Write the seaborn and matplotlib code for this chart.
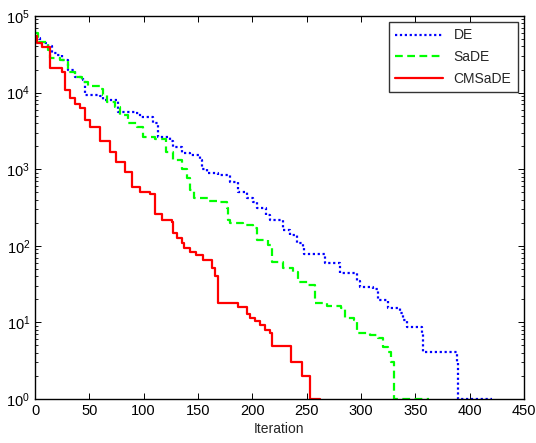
import numpy as np
import pandas as pd
import seaborn as sns
import matplotlib
matplotlib.use('Agg')
import matplotlib.pyplot as plt
from matplotlib.ticker import LogLocator, NullFormatter

# step-curve breakpoints (iteration, best fitness)
de_iter = [0, 5, 12, 16, 20, 25, 30, 37, 44, 46, 60, 63, 76, 92, 97, 109, 113, 124, 127,
           135, 143, 152, 154, 158, 168, 179, 187, 195, 201, 204, 213, 216, 228, 235, 241,
           247, 248, 267, 281, 296, 299, 311, 316, 325, 336, 339, 342, 356, 357, 388, 389, 421]
de_val = [5.1e4, 4.5e4, 4.0e4, 3.3e4, 3.1e4, 2.7e4, 1.95e4, 1.58e4, 1.45e4, 9.3e3, 8.9e3,
          7.9e3, 5.6e3, 5.4e3, 4.8e3, 4.0e3, 2.6e3, 2.3e3, 1.95e3, 1.62e3, 1.55e3, 1.32e3,
          1.02e3, 890, 830, 680, 500, 420, 370, 310, 250, 219, 162, 138, 110, 95, 79, 59,
          44, 35, 29, 27, 19.5, 15.5, 13.2, 10.7, 8.7, 7.2, 4.1, 3.0, 1.0, 1.0]

sade_iter = [0, 3, 12, 14, 23, 30, 37, 43, 49, 60, 63, 66, 74, 78, 86, 94, 99, 110, 121,
             127, 135, 140, 143, 146, 159, 170, 177, 178, 179, 191, 201, 204, 214, 218, 228,
             237, 242, 251, 258, 269, 282, 285, 294, 296, 308, 316, 320, 325, 328, 330, 363]
sade_val = [6.0e4, 4.6e4, 3.6e4, 2.8e4, 2.7e4, 1.86e4, 1.58e4, 1.38e4, 1.23e4, 1.12e4,
            9.3e3, 7.6e3, 6.5e3, 5.1e3, 4.0e3, 3.55e3, 2.6e3, 2.45e3, 1.66e3, 1.32e3,
            1.02e3, 760, 540, 420, 380, 370, 310, 219, 200, 186, 170, 120, 102, 62, 52, 46,
            34, 31, 17.8, 16.5, 15.5, 11.5, 10.7, 7.2, 6.9, 6.3, 4.8, 4.1, 3.0, 1.0, 1.0]

cmsade_iter = [0, 2, 6, 14, 25, 28, 32, 37, 41, 46, 51, 60, 69, 75, 83, 89, 97, 106, 110,
               117, 126, 127, 131, 135, 137, 143, 148, 155, 163, 166, 168, 187, 195, 198,
               202, 207, 212, 216, 218, 236, 246, 253, 262]
cmsade_val = [5.5e4, 4.4e4, 3.9e4, 2.1e4, 1.85e4, 1.07e4, 8.5e3, 7.2e3, 6.3e3, 4.4e3,
              3.55e3, 2.3e3, 1.66e3, 1.23e3, 910, 590, 500, 480, 263, 219, 204, 148, 126,
              108, 93, 83, 76, 65, 51, 40, 17.8, 16, 13, 11.5, 10.3, 9.3, 8, 7.2, 4.9, 3.0,
              2.0, 1.0, 1.0]

names = ['DE', 'SaDE', 'CMSaDE']
colors = ['#0000ff', '#00ff00', '#ff0000']
styles = [(0, (1, 1.2)), (0, (3.5, 2)), '-']

sns.set_style('ticks')
plt.rcParams['font.family'] = ['Liberation Sans', 'DejaVu Sans']

fig = plt.figure(figsize=(5.36, 4.43), dpi=100)
ax = fig.add_axes([0.0653, 0.0993, 0.9123, 0.8646])

series = [(de_iter, de_val), (sade_iter, sade_val), (cmsade_iter, cmsade_val)]
for name, (xs, ys), c, ls in zip(names, series, colors, styles):
    df = pd.DataFrame({'Iteration': xs, 'value': ys})
    sns.lineplot(data=df, x='Iteration', y='value', ax=ax, color=c, linestyle=ls,
                 linewidth=1.6, drawstyle='steps-post', label=name, sort=False,
                 estimator=None)

ax.set_yscale('log')
ax.set_xlim(0, 450)
ax.set_ylim(1, 1e5)
ax.set_xticks(np.arange(0, 451, 50))
ax.yaxis.set_major_locator(LogLocator(base=10, numticks=10))
ax.yaxis.set_minor_locator(LogLocator(base=10, subs=np.arange(2, 10), numticks=10))
ax.yaxis.set_minor_formatter(NullFormatter())
ax.set_xlabel('Iteration', fontsize=10, labelpad=3)
ax.set_ylabel('')
ax.tick_params(which='both', direction='in', top=True, right=True, labelsize=10.5,
               colors='black')
ax.tick_params(which='major', length=4, width=0.7)
ax.tick_params(which='minor', length=2, width=0.6)
for s in ax.spines.values():
    s.set_linewidth(1.0)
    s.set_color('black')

leg = ax.legend(loc='upper right', fontsize=10, frameon=True, fancybox=False,
                edgecolor='black', borderaxespad=0.45, handlelength=3.4,
                labelspacing=0.55, borderpad=0.45)
leg.get_frame().set_linewidth(1.0)

fig.savefig('out.png', dpi=100)
